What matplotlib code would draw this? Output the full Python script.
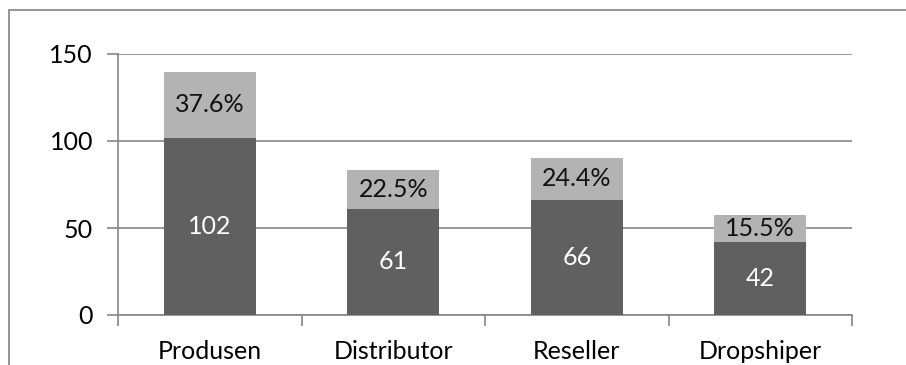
import matplotlib.pyplot as plt
from matplotlib.patches import Rectangle

categories = ["Produsen", "Distributor", "Reseller", "Dropshiper"]
base = [102, 61, 66, 42]
share = [37.6, 22.5, 24.4, 15.5]
share_labels = ["37.6%", "22.5%", "24.4%", "15.5%"]

plt.rcParams['font.family'] = ['Lato', 'DejaVu Sans']
FS = 18

W, H = 906, 365
fig = plt.figure(figsize=(W / 100, H / 100), dpi=100)
ax = fig.add_axes([118 / W, 1 - 315 / H, (852 - 118) / W, (315 - 54) / H])

# outer chart frame (only left/top visible in the crop)
fig.patches.append(Rectangle((9 / W, -0.1), 1.2, 1 - 10 / H + 0.1, transform=fig.transFigure,
                             fill=False, edgecolor='#8c8c8c', linewidth=1.3))

x = range(len(categories))
ax.bar(x, base, width=0.5, color='#606060', zorder=3)
ax.bar(x, share, bottom=base, width=0.5, color='#b3b3b3', zorder=3)

for i in x:
    ax.text(i, base[i] / 2, str(base[i]), ha='center', va='center', color='white', fontsize=FS, zorder=4)
    ax.text(i, base[i] + share[i] / 2, share_labels[i], ha='center', va='center', color='#111111',
            fontsize=FS, zorder=4)

ax.set_xlim(-0.5, len(categories) - 0.5)
ax.set_ylim(0, 150)
ax.set_yticks([0, 50, 100, 150])
ax.yaxis.grid(True, color='#868686', linewidth=1.2, zorder=0)
ax.set_xticks(x)
ax.set_xticklabels(categories)
ax.set_xticks([i - 0.5 for i in range(len(categories) + 1)], minor=True)
ax.tick_params(axis='x', which='major', length=0, pad=18, labelsize=FS)
ax.tick_params(axis='x', which='minor', length=8, color='#868686', width=1.2)
ax.tick_params(axis='y', length=8, color='#868686', width=1.2, labelsize=FS, pad=10)
for s in ['top', 'right']:
    ax.spines[s].set_visible(False)
for s in ['left', 'bottom']:
    ax.spines[s].set_color('#868686')
    ax.spines[s].set_linewidth(1.2)

fig.savefig('out.png', dpi=100)
